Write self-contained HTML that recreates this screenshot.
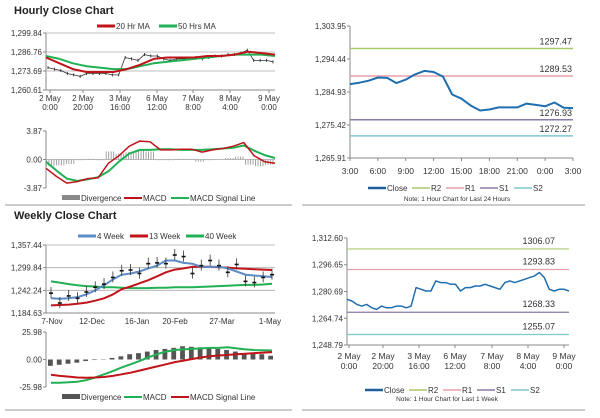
<!DOCTYPE html>
<html><head><meta charset="utf-8">
<style>
body{margin:0;background:#fff;width:600px;height:413px;overflow:hidden;font-family:"Liberation Sans",Arial,sans-serif}
svg text{font-family:"Liberation Sans",Arial,sans-serif}
</style></head>
<body>
<svg id="c" width="600" height="413" xmlns="http://www.w3.org/2000/svg">
<text x="14" y="14" font-size="11" font-weight="bold" fill="#222">Hourly Close Chart</text>
<text x="14" y="219" font-size="11" font-weight="bold" fill="#222">Weekly Close Chart</text>
<line x1="5" y1="205" x2="292" y2="205" stroke="#999"/>
<line x1="302" y1="205" x2="585" y2="205" stroke="#999"/>
<line x1="5" y1="410" x2="292" y2="410" stroke="#999"/>
<line x1="302" y1="410" x2="585" y2="410" stroke="#999"/>
</svg>
<script>
// ---- data ----
const hourlyClose=[1276,1275,1274,1272,1271,1270,1272,1272,1272,1272,1271,1271,1283,1282,1281,1285,1284,1284,1282,1281,1282,1282,1282,1283,1282,1283,1284,1284,1285,1285,1286,1288,1281,1281,1281,1280];
const hourlyMA20=[1283,1279,1275,1273,1273,1273,1275,1278,1282,1283,1283,1283,1284,1284,1285,1287,1286,1285];
const hourlyMA50=[1284,1282,1279,1277,1276,1275,1275,1277,1279,1280,1281,1282,1283,1284,1285,1285,1285,1284];
const hourlyXLabels=[["2 May","0:00"],["2 May","20:00"],["3 May","16:00"],["6 May","12:00"],["7 May","8:00"],["8 May","4:00"],["9 May","0:00"]];
const hourlyYTicks=[1299.84,1286.76,1273.69,1260.61];
const hMacd=[-1.2,-2.3,-3.2,-3.0,-2.6,-2.5,-0.5,0.5,1.8,2.5,2.4,1.3,1.3,1.4,1.4,1.0,1.3,1.5,1.8,2.3,0.5,-0.3,-0.5];
const hSignal=[-0.3,-1.5,-2.6,-2.9,-2.7,-2.4,-1.6,-0.3,0.8,1.3,1.3,1.4,1.4,1.3,1.3,1.3,1.4,1.5,1.6,1.9,1.2,0.6,0.2];
const hDiv=[-0.9,-0.8,-0.6,-0.1,0.1,-0.1,1.1,0.8,1.0,1.2,1.1,-0.1,-0.1,0.1,0.1,-0.3,-0.1,0,0.2,0.4,-0.7,-0.9,-0.7];
const hMacdTicks=[3.87,0,-3.87];

const dayClose=[1287.2,1287.6,1288.2,1289.1,1289.0,1287.5,1288.5,1290.0,1291.0,1290.7,1289.4,1284.2,1283.0,1281.0,1279.6,1279.9,1280.5,1280.5,1280.5,1281.6,1281.2,1280.8,1281.9,1280.4,1280.3];
const dayLevels=[1297.47,1289.53,1276.93,1272.27];
const dayXLabels=["3:00","6:00","9:00","12:00","15:00","18:00","21:00","0:00","3:00"];
const dayYTicks=[1303.95,1294.44,1284.93,1275.42,1265.91];

const wkClose=[1235,1210,1228,1222,1238,1250,1258,1275,1292,1294,1285,1310,1312,1310,1332,1328,1285,1305,1318,1305,1288,1308,1265,1262,1275,1282];
const wkMA4=[1222,1221,1222,1225,1232,1242,1255,1270,1282,1285,1290,1298,1305,1318,1318,1312,1310,1302,1302,1302,1298,1290,1282,1280,1278,1276];
const wkMA13=[1204,1205,1206,1208,1211,1216,1222,1232,1245,1252,1260,1268,1278,1288,1295,1298,1302,1302,1302,1301,1300,1298,1297,1296,1295,1294];
const wkMA40=[1265,1262,1258,1255,1253,1252,1250,1250,1249,1248,1248,1248,1249,1249,1250,1250,1250,1251,1252,1253,1254,1255,1256,1256,1257,1259];
const wkXLabels=["7-Nov","12-Dec","16-Jan","20-Feb","27-Mar","1-May"];
const wkYTicks=[1357.44,1299.84,1242.24,1184.63];
const wMacd=[-22,-22,-21.5,-21,-19.5,-17,-14,-11,-7.5,-4.5,-1.5,2,5,7.5,9,9.5,10,10.5,11,11,11.5,10.5,9.5,9,8.8,8.5];
const wSignal=[-14.5,-15.5,-16.2,-17,-17.3,-17,-16.5,-15.5,-14,-12.5,-10.5,-8.5,-6.5,-4.5,-2.5,-1,0.5,2,3,3.8,4.3,5,5.5,6,6.5,7];
const wDiv=[-6,-5,-4,-3,-1.5,-0.5,0.3,1.5,3,5,6,7.5,9,10,11,12.5,12,11.5,11,10,9,7.5,6,5.5,5,3.5];
const wMacdTicks=[25.98,0,-25.98];

const wkRClose=[1276,1275,1273,1272,1273,1271,1270,1272,1271,1271,1272,1272,1271,1272,1283,1282,1281,1281,1287,1286,1286,1285,1285,1281,1283,1283,1284,1284,1285,1284,1283,1282,1286,1287,1286,1287,1288,1289,1290,1292,1289,1282,1281,1282,1282,1281];
const wkRLevels=[1306.07,1293.83,1268.33,1255.07];
const wkRYTicks=[1312.60,1296.65,1280.69,1264.74,1248.79];

// ---- helpers ----
const NS="http://www.w3.org/2000/svg";
const svg=document.getElementById('c');
function el(tag,attrs,parent){const e=document.createElementNS(NS,tag);for(const k in attrs)e.setAttribute(k,attrs[k]);(parent||svg).appendChild(e);return e;}
function scale(d0,d1,r0,r1){return v=>r0+(v-d0)/(d1-d0)*(r1-r0);}
function fmt(v){return v.toLocaleString('en-US',{minimumFractionDigits:2,maximumFractionDigits:2});}
function poly(arr,x0,x1,ys,color,w,name){
  const n=arr.length;const pts=arr.map((v,i)=>(x0+i*(x1-x0)/(n-1)).toFixed(1)+','+ys(v).toFixed(1)).join(' ');
  const p=el('polyline',{points:pts,fill:'none',stroke:color,'stroke-width':w,'stroke-linejoin':'round'});
  
  
  return p;
}
function yAxis(ticks,ys,xL,xR,grid,name){
  const g=el('g',{});
  
  
  el('line',{x1:xL,y1:ys(ticks[0]),x2:xL,y2:ys(ticks[ticks.length-1]),stroke:'#888'},g);
  ticks.forEach(t=>{
    if(grid)el('line',{x1:xL,y1:ys(t),x2:xR,y2:ys(t),stroke:'#aaa','stroke-width':0.8},g);
    el('line',{x1:xL-3,y1:ys(t),x2:xL,y2:ys(t),stroke:'#888'},g);
    const tx=el('text',{x:xL-4,y:ys(t)+3,'font-size':8,'text-anchor':'end',fill:'#333'},g);
    tx.textContent=fmt(t);
  });
  return g;
}
function legend(items,y,cx,name){
  const g=el('g',{});
  
  
  let total=items.reduce((s,it)=>s+it[3]+22,0);let x=cx-total/2;
  items.forEach(it=>{
    if(it[2]==='bar')el('rect',{x:x,y:y-3,width:18,height:5,fill:it[1]},g);
    else el('line',{x1:x,y1:y,x2:x+18,y2:y,stroke:it[1],'stroke-width':it[2]},g);
    const t=el('text',{x:x+19,y:y+3,'font-size':8,fill:'#333'},g);t.textContent=it[0];
    x+=it[3]+22;
  });
}

// ---- Hourly price (left top) ----
{const xL=46,xR=275,ys=scale(1260.61,1299.84,90,33);
yAxis(hourlyYTicks,ys,xL,xR,true,'hourly-y-axis');
el('line',{x1:xL,y1:90,x2:xR,y2:90,stroke:'#888'});
const xs=[50,83,120,157,193,230,269];
hourlyXLabels.forEach((l,i)=>{el('line',{x1:xs[i],y1:90,x2:xs[i],y2:93,stroke:'#888'});
 const t=el('text',{x:xs[i],y:101,'font-size':8,'text-anchor':'middle',fill:'#333'});t.textContent=l[0];
 const t2=el('text',{x:xs[i],y:110,'font-size':8,'text-anchor':'middle',fill:'#333'});t2.textContent=l[1];});
const n=hourlyClose.length;
hourlyClose.forEach((v,i)=>{const x=xL+2+i*(xR-xL-4)/(n-1);const b=el('line',{x1:x,y1:ys(v)-1.5,x2:x,y2:ys(v)+1.5,stroke:'#111','stroke-width':0.8});
 
 });
poly(hourlyClose,xL+2,xR-2,ys,'#333',0.8,'hourly-close-line');
poly(hourlyMA50,xL,xR,ys,'#22b055',2,'ma50-line');
poly(hourlyMA20,xL,xR,ys,'#c0141a',2,'ma20-line');
legend([['20 Hr MA','#c0141a',3,40],['50 Hrs MA','#22b055',3,42]],26,160,'hourly-legend');}

// ---- Hourly MACD ----
{const xL=46,xR=275,ys=scale(-3.87,3.87,188,131);
yAxis(hMacdTicks,ys,xL,xR,false,'hourly-macd-y-axis');
el('line',{x1:xL,y1:ys(0),x2:xR,y2:ys(0),stroke:'#bbb'});
const n=hDiv.length,bw=(xR-xL)/n;
hDiv.forEach((v,i)=>{for(let k=0;k<4;k++){const r=el('rect',{x:xL+i*bw+k*bw/4,y:Math.min(ys(0),ys(v)),width:0.9,height:Math.abs(ys(v)-ys(0)),fill:'#999'});
 
 }});
poly(hSignal,xL,xR,ys,'#22b055',2,'hourly-signal-line');
poly(hMacd,xL,xR,ys,'#c0141a',1.5,'hourly-macd-line');
legend([['Divergence','#888','bar',40],['MACD','#c0141a',2,25],['MACD Signal Line','#22b055',2,65]],198,160,'hourly-macd-legend');}

// ---- Day close (right top) ----
{const xL=350,xR=573,ys=scale(1265.91,1303.95,158,26);
yAxis(dayYTicks,ys,xL,xR,false,'day-y-axis');
el('line',{x1:xL,y1:158,x2:xR,y2:158,stroke:'#888'});
const cols=['#a8c96a','#e8a0a8','#8a7aa8','#7ec8d0'];
dayLevels.forEach((v,i)=>{const l=el('line',{x1:xL,y1:ys(v),x2:xR,y2:ys(v),stroke:cols[i],'stroke-width':1.5});
 
 
 const t=el('text',{x:572,y:ys(v)-4,'font-size':9,'text-anchor':'end',fill:'#333'});t.textContent=v.toFixed(2);});
dayXLabels.forEach((l,i)=>{const x=xL+i*(xR-xL)/8;el('line',{x1:x,y1:158,x2:x,y2:161,stroke:'#888'});
 const t=el('text',{x:x,y:174,'font-size':8.5,'text-anchor':'middle',fill:'#333'});t.textContent=l;});
poly(dayClose,xL,xR,ys,'#1f6eb0',2,'day-close-line');
legend([['Close','#1f5f9a',2.5,22],['R2','#a8c96a',1.5,12],['R1','#e8a0a8',1.5,12],['S1','#8a7aa8',1.5,12],['S2','#7ec8d0',1.5,12]],188,458,'day-legend');
const nt=el('text',{x:457,y:201,'font-size':6.5,'text-anchor':'middle',fill:'#333'});nt.textContent='Note: 1 Hour Chart for Last 24 Hours';}

// ---- Weekly price ----
{const xL=46,xR=275,ys=scale(1184.63,1357.44,313,245);
yAxis(wkYTicks,ys,xL,xR,true,'weekly-y-axis');
el('line',{x1:xL,y1:313,x2:xR,y2:313,stroke:'#888'});
const xs=[52,92,137,175,222,270];
wkXLabels.forEach((l,i)=>{const t=el('text',{x:xs[i],y:324,'font-size':8,'text-anchor':'middle',fill:'#333'});t.textContent=l;});
poly(wkMA40,xL+5,xR-3,ys,'#22b055',2,'wk40-line');
poly(wkMA13,xL+5,xR-3,ys,'#c0141a',2,'wk13-line');
poly(wkMA4,xL+5,xR-3,ys,'#5b8cc6',2,'wk4-line');
const n=wkClose.length;
wkClose.forEach((v,i)=>{const x=xL+5+i*(xR-xL-8)/(n-1);
 const l=el('line',{x1:x,y1:ys(v)-6,x2:x,y2:ys(v)+5,stroke:'#333','stroke-width':0.8});
 
 
 el('line',{x1:x-2,y1:ys(v),x2:x+2,y2:ys(v),stroke:'#111','stroke-width':1.6});});
legend([['4 Week','#5b8cc6',3,30],['13 Week','#c0141a',3,34],['40 Week','#22b055',3,34]],236,160,'weekly-legend');}

// ---- Weekly MACD ----
{const xL=46,xR=275,ys=scale(-25.98,25.98,387,332);
yAxis(wMacdTicks,ys,xL,xR,false,'weekly-macd-y-axis');
const n=wDiv.length,bw=(xR-xL)/n;
wDiv.forEach((v,i)=>{const r=el('rect',{x:xL+i*bw+2,y:Math.min(ys(0),ys(v)),width:bw-4,height:Math.abs(ys(v)-ys(0)),fill:'#555'});
 
 });
poly(wMacd,xL+5,xR-3,ys,'#22b055',2,'weekly-macd-line');
poly(wSignal,xL+5,xR-3,ys,'#c0141a',2,'weekly-signal-line');
legend([['Divergence','#555','bar',40],['MACD','#22b055',2,25],['MACD Signal Line','#c0141a',2,65]],397,160,'weekly-macd-legend');}

// ---- Week close (right bottom) ----
{const xL=347,xR=569,ys=scale(1248.79,1312.60,345,238);
yAxis(wkRYTicks,ys,xL,xR,false,'week-y-axis');
el('line',{x1:xL,y1:345,x2:xR,y2:345,stroke:'#888'});
const cols=['#a8c96a','#e8a0a8','#8a7aa8','#7ec8d0'];
wkRLevels.forEach((v,i)=>{const l=el('line',{x1:xL,y1:ys(v),x2:xR,y2:ys(v),stroke:cols[i],'stroke-width':1.2});
 
 
 const t=el('text',{x:555,y:ys(v)-5,'font-size':9,'text-anchor':'end',fill:'#333'});t.textContent=v.toFixed(2);});
const xs=[349,383,419,455,492,528,564];
hourlyXLabels.forEach((l,i)=>{el('line',{x1:xs[i],y1:345,x2:xs[i],y2:348,stroke:'#888'});
 const t=el('text',{x:xs[i],y:359,'font-size':8.5,'text-anchor':'middle',fill:'#333'});t.textContent=l[0];
 const t2=el('text',{x:xs[i],y:369,'font-size':8.5,'text-anchor':'middle',fill:'#333'});t2.textContent=l[1];});
poly(wkRClose,xL,xR,ys,'#1f6eb0',1.5,'week-close-line');
legend([['Close','#1f5f9a',2.5,22],['R2','#a8c96a',1.5,12],['R1','#e8a0a8',1.5,12],['S1','#8a7aa8',1.5,12],['S2','#7ec8d0',1.5,12]],390,455,'week-legend');
const nt=el('text',{x:447,y:401,'font-size':6.5,'text-anchor':'middle',fill:'#333'});nt.textContent='Note: 1 Hour Chart for Last 1 Week';}
</script>
</body></html>
